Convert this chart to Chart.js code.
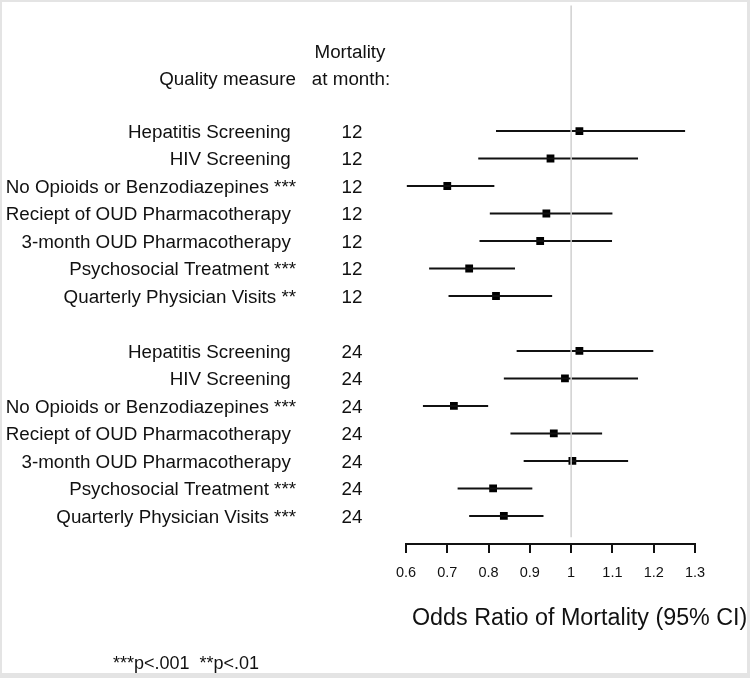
<!DOCTYPE html>
<html>
<head>
<meta charset="utf-8">
<script src="https://cdn.jsdelivr.net/npm/chart.js@4.4.1/dist/chart.umd.min.js"></script>
<style>
  html, body { margin: 0; padding: 0; background: #fff; }
  canvas { display: block; }
</style>
</head>
<body>
<canvas id="forest" width="750" height="678"></canvas>
<script>
const measures = [
  'Hepatitis Screening ', 'HIV Screening ', 'No Opioids or Benzodiazepines ***',
  'Reciept of OUD Pharmacotherapy ', '3-month OUD Pharmacotherapy ',
  'Psychosocial Treatment ***', 'Quarterly Physician Visits **',
  'Hepatitis Screening ', 'HIV Screening ', 'No Opioids or Benzodiazepines ***',
  'Reciept of OUD Pharmacotherapy ', '3-month OUD Pharmacotherapy ',
  'Psychosocial Treatment ***', 'Quarterly Physician Visits ***',
];
const months = ['12', '12', '12', '12', '12', '12', '12', '24', '24', '24', '24', '24', '24', '24'];
const rowPos = [0, 1, 2, 3, 4, 5, 6, 8, 9, 10, 11, 12, 13, 14];
const oddsRatio = [1.02, 0.95, 0.70, 0.94, 0.925, 0.753, 0.818, 1.02, 0.985, 0.716, 0.958, 1.003, 0.811, 0.837];
const ciLow = [0.818, 0.775, 0.602, 0.803, 0.778, 0.656, 0.703, 0.868, 0.837, 0.641, 0.853, 0.885, 0.725, 0.753];
const ciHigh = [1.276, 1.162, 0.814, 1.100, 1.099, 0.864, 0.954, 1.199, 1.162, 0.799, 1.075, 1.138, 0.906, 0.933];
const xTicks = [0.6, 0.7, 0.8, 0.9, 1.0, 1.1, 1.2, 1.3];

const FONT = '"Liberation Sans", Arial, sans-serif';

const ciLines = rowPos.map((y, i) => ({
  type: 'line',
  data: [{ x: ciLow[i], y }, { x: ciHigh[i], y }],
  borderColor: '#111',
  borderWidth: 2,
  pointRadius: 0,
  fill: false,
}));

// text columns and frame drawn around the plot
const sidePanel = {
  id: 'sidePanel',
  beforeDraw(chart) {
    const ctx = chart.ctx;
    ctx.save();
    ctx.fillStyle = '#e4e4e4';
    ctx.fillRect(0, 0, chart.width, chart.height);
    ctx.fillStyle = '#fff';
    ctx.fillRect(2, 2, 745, 671);
    ctx.restore();
  },
  afterDraw(chart) {
    const ctx = chart.ctx;
    const ys = chart.scales.y;
    ctx.save();
    ctx.fillStyle = '#111';
    ctx.textBaseline = 'middle';
    ctx.font = '18.8px ' + FONT;
    measures.forEach((m, i) => {
      const y = ys.getPixelForValue(rowPos[i]) + 1.5;
      ctx.textAlign = 'right';
      ctx.fillText(m, 296, y);
      ctx.textAlign = 'center';
      ctx.fillText(months[i], 352, y);
    });
    ctx.textAlign = 'right';
    ctx.fillText('Quality measure', 296, ys.getPixelForValue(-1.9) + 1.5);
    ctx.textAlign = 'center';
    ctx.fillText('Mortality', 350, ys.getPixelForValue(-2.9) + 1.5);
    ctx.fillText('at month:', 351, ys.getPixelForValue(-1.9) + 1.5);

    ctx.textAlign = 'left';
    ctx.font = '23.3px ' + FONT;
    ctx.fillText('Odds Ratio of Mortality (95% CI)', 412, 619);
    ctx.font = '18px ' + FONT;
    ctx.fillText('***p<.001  **p<.01', 113, 664);
    ctx.restore();
  },
};

new Chart(document.getElementById('forest'), {
  type: 'scatter',
  data: {
    datasets: [
      {
        type: 'line',
        data: [{ x: 1, y: -4.7 }, { x: 1, y: 14.77 }],
        borderColor: '#d0d0d0',
        borderWidth: 1.5,
        pointRadius: 0,
      },
      ...ciLines,
      {
        data: rowPos.map((y, i) => ({ x: oddsRatio[i], y })),
        pointStyle: 'rect',
        pointRadius: 5.5,
        backgroundColor: '#000',
        borderWidth: 0,
      },
    ],
  },
  options: {
    responsive: false,
    animation: false,
    layout: { padding: { left: 406, right: 55, top: 2, bottom: 0 } },
    plugins: { legend: { display: false }, tooltip: { enabled: false } },
    scales: {
      x: {
        type: 'linear',
        min: 0.6,
        max: 1.3,
        afterBuildTicks: (s) => { s.ticks = xTicks.map((v) => ({ value: v })); },
        afterFit: (s) => { s.height = 134; },
        ticks: {
          color: '#111',
          font: { family: FONT, size: 14.5 },
          padding: 11,
          maxRotation: 0,
          callback: (v) => String(+Number(v).toFixed(1)),
        },
        grid: { drawOnChartArea: false, drawTicks: true, tickLength: 9, color: '#111', lineWidth: 2 },
        border: { display: true, color: '#111', width: 2 },
      },
      y: {
        type: 'linear',
        reverse: true,
        min: -4.565,
        max: 15.02,
        display: false,
      },
    },
  },
  plugins: [sidePanel],
});
</script>
</body>
</html>
